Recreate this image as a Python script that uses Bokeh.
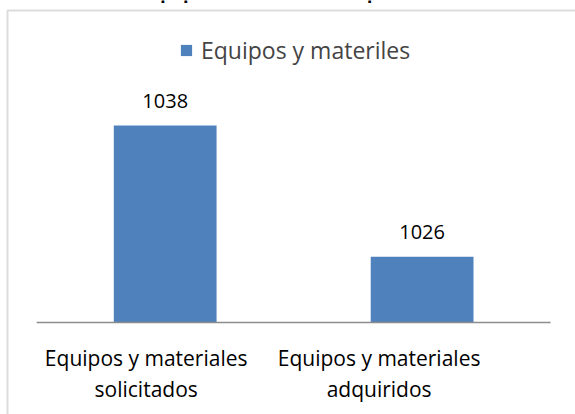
from bokeh.plotting import figure
from bokeh.models import Range1d, Label, BoxAnnotation, Legend, LegendItem, ColumnDataSource
from bokeh.core.properties import value
from bokeh.embed import file_html
from bokeh.resources import INLINE

# --- data ---
title = "Gráfico 3: Equipos informáticos adquiridos"
categories = ["Equipos y materiales\nsolicitados", "Equipos y materiales\nadquiridos"]
series_name = "Equipos y materiles"
values = [1038, 1026]
axis_min = 1020

W, H = 575, 414
FONT = "Open Sans"
BLUE = "#4F81BD"
GREY = "#8C8C8C"

xs = list(range(len(categories)))
src = ColumnDataSource(dict(
    x=xs,
    top=values,
    bottom=[axis_min] * len(values),
    label=[str(v) for v in values],
    line1=[c.split("\n")[0] for c in categories],
    line2=[c.split("\n")[1] for c in categories],
    xoff=[-19, -43],
))

p = figure(width=W, height=H, output_backend="svg", toolbar_location=None,
           x_range=Range1d(-0.641, 1.597), y_range=Range1d(1011.59, 1049.43),
           x_axis_location=None, y_axis_location=None, min_border=0)
p.grid.visible = False
p.outline_line_color = None
p.background_fill_color = "white"
p.border_fill_color = "white"

# chart area border
p.add_layout(BoxAnnotation(left=7, right=W + 50, top=H - 10, bottom=-50,
                           left_units="screen", right_units="screen",
                           top_units="screen", bottom_units="screen",
                           fill_color=None, line_color=GREY, line_width=2))

# chart title (runs off the top edge)
p.add_layout(Label(x=54, y=H + 9, x_units="screen", y_units="screen", text=title,
                   text_font=FONT, text_font_size="18px", text_font_style="bold",
                   text_color="black", text_baseline="alphabetic"))

bars = p.vbar(x="x", top="top", bottom="bottom", width=0.4, source=src,
              fill_color=BLUE, line_color=None)

# category axis baseline
p.segment(x0=-0.5, x1=len(categories) - 0.5, y0=axis_min, y1=axis_min,
          line_color=GREY, line_width=1.5)

# value labels
p.text(x="x", y="top", text="label", source=src, text_align="center",
       text_baseline="alphabetic", y_offset=-25, text_font=value(FONT),
       text_font_size="20px", text_color="black")

# category labels (two lines)
p.text(x="x", y="bottom", text="line1", source=src, x_offset="xoff", y_offset=36,
       text_align="center", text_baseline="alphabetic", text_font=value(FONT),
       text_font_size="21px", text_color="black")
p.text(x="x", y="bottom", text="line2", source=src, x_offset="xoff", y_offset=67,
       text_align="center", text_baseline="alphabetic", text_font=value(FONT),
       text_font_size="21px", text_color="black")

legend = Legend(items=[LegendItem(label=series_name, renderers=[bars])],
                location=(179, H - 66), padding=0, margin=0, spacing=0,
                glyph_width=14, glyph_height=14, label_standoff=8,
                label_text_font=FONT, label_text_font_size="23px",
                border_line_color=None, background_fill_alpha=0)
p.add_layout(legend)

open("out.html", "w").write(file_html(p, INLINE))
